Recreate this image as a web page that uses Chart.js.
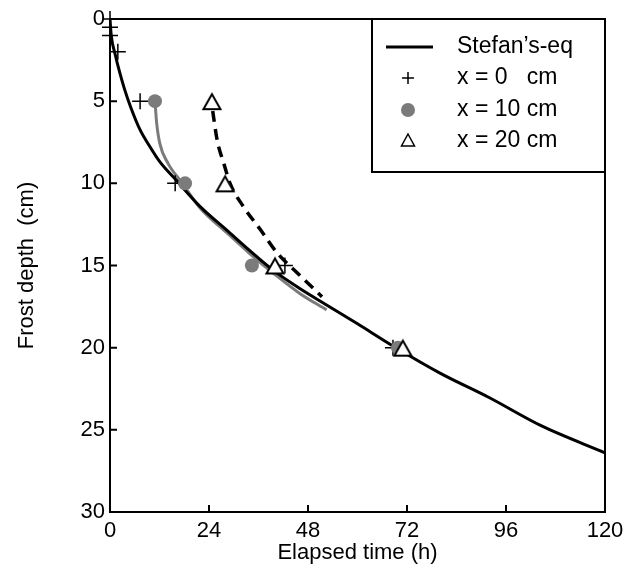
<!DOCTYPE html>
<html>
<head>
<meta charset="utf-8">
<script src="https://cdn.jsdelivr.net/npm/chart.js@4/dist/chart.umd.min.js"></script>
<style>
  html, body { margin: 0; padding: 0; background: #fff; }
  #wrap { width: 636px; height: 568px; }
</style>
</head>
<body>
<div id="wrap"><canvas id="frostChart" width="636" height="568"></canvas></div>
<script>
// Stefan's equation curve (elapsed time h, frost depth cm)
const stefanTime  = [0, 0.3, 1.2, 2.4, 3.5, 5, 7.3, 9.5, 12.1, 16.2, 21.8, 28.3, 33.9, 39.6, 46, 52.5, 60, 68.6, 80, 92, 104.5, 120];
const stefanDepth = [0, 1, 2.1, 3.3, 4.25, 5.35, 6.75, 7.7, 8.7, 9.85, 11.4, 12.85, 14.1, 15.3, 16.4, 17.4, 18.55, 19.9, 21.55, 23.05, 24.75, 26.4];

// measured points, x = 0 cm
const x0Time  = [0, 0, 0, 1.9, 7.3, 15.8, 42.4, 68.6];
const x0Depth = [0, 0.5, 1, 2, 5, 10, 15, 20];

// measured points, x = 10 cm, and its fitted curve
const x10Time  = [10.9, 18.2, 34.4, 69.8];
const x10Depth = [5, 10, 15, 20];
const x10LineTime  = [10.9, 11.3, 12.1, 14.1, 17.4, 22, 28.3, 34, 40, 46, 52.5];
const x10LineDepth = [5, 6.3, 7.6, 8.8, 9.95, 11.55, 13.0, 14.3, 15.55, 16.7, 17.7];

// measured points, x = 20 cm, and its fitted curve (dashed)
const x20Time  = [24.7, 27.9, 40, 71];
const x20Depth = [5, 10, 15, 20];
const x20LineTime  = [24.9, 26, 27.6, 29.1, 32.3, 36.4, 40.4, 45.6, 51.4];
const x20LineDepth = [5.6, 7.4, 8.8, 10, 11.4, 12.8, 14.2, 15.5, 16.9];

const xTicks = [0, 24, 48, 72, 96, 120];
const yTicks = [0, 5, 10, 15, 20, 25, 30];

const legendItems = ["Stefan\u2019s-eq", "x = 0   cm", "x = 10 cm", "x = 20 cm"];

const FONT = '"Liberation Sans", Arial, sans-serif';
const GRAY = '#7b7b7b';
const pts = (xs, ys) => xs.map((v, i) => ({ x: v, y: ys[i] }));

// open triangle marker, sitting a bit low like the original symbol
function triangleMarker(half, up, down, lw) {
    const c = document.createElement('canvas');
    c.width = 24; c.height = 24;
    const g = c.getContext('2d');
    g.fillStyle = '#fff';
    g.strokeStyle = '#000';
    g.lineWidth = lw;
    g.lineJoin = 'miter';
    g.beginPath();
    g.moveTo(12, 12 - up);
    g.lineTo(12 + half, 12 + down);
    g.lineTo(12 - half, 12 + down);
    g.closePath();
    g.fill();
    g.stroke();
    return c;
}
const triMark = triangleMarker(8.5, 7, 8, 2);

// frame + inward tick marks
const framePlugin = {
    id: 'frame',
    beforeDatasetsDraw(chart) {
        const { ctx, chartArea: a, scales: { x, y } } = chart;
        ctx.save();
        ctx.strokeStyle = '#000';
        ctx.lineWidth = 2;
        ctx.strokeRect(a.left, a.top, a.right - a.left, a.bottom - a.top);
        ctx.beginPath();
        xTicks.forEach(v => {
            const px = x.getPixelForValue(v);
            ctx.moveTo(px, a.bottom);
            ctx.lineTo(px, a.bottom - 7);
        });
        yTicks.forEach(v => {
            const py = y.getPixelForValue(v);
            ctx.moveTo(a.left, py);
            ctx.lineTo(a.left + 7, py);
        });
        ctx.stroke();
        ctx.restore();
    }
};

// boxed legend in the upper right corner
const legendPlugin = {
    id: 'boxLegend',
    afterDraw(chart) {
        const { ctx, chartArea: a } = chart;
        const w = 233, h = 153;
        const left = a.right - w, top = a.top;
        ctx.save();
        ctx.fillStyle = '#fff';
        ctx.fillRect(left, top, w, h);
        ctx.strokeStyle = '#000';
        ctx.lineWidth = 2;
        ctx.strokeRect(left, top, w, h);

        const rows = [28, 59, 91, 122].map(v => top + v);
        const sx = left + 36;

        // line
        ctx.lineWidth = 3;
        ctx.beginPath();
        ctx.moveTo(sx - 22, rows[0]);
        ctx.lineTo(sx + 25, rows[0]);
        ctx.stroke();
        // plus
        ctx.lineWidth = 1.5;
        ctx.beginPath();
        ctx.moveTo(sx - 6, rows[1]); ctx.lineTo(sx + 6, rows[1]);
        ctx.moveTo(sx, rows[1] - 6); ctx.lineTo(sx, rows[1] + 6);
        ctx.stroke();
        // circle
        ctx.fillStyle = GRAY;
        ctx.beginPath();
        ctx.arc(sx, rows[2], 7, 0, Math.PI * 2);
        ctx.fill();
        // triangle
        ctx.lineWidth = 1.5;
        ctx.beginPath();
        ctx.moveTo(sx, rows[3] - 7);
        ctx.lineTo(sx + 6.5, rows[3] + 5);
        ctx.lineTo(sx - 6.5, rows[3] + 5);
        ctx.closePath();
        ctx.stroke();

        ctx.fillStyle = '#000';
        ctx.font = '23px ' + FONT;
        ctx.textBaseline = 'middle';
        ctx.textAlign = 'left';
        legendItems.forEach((t, i) => ctx.fillText(t, left + 85, rows[i]));
        ctx.restore();
    }
};

new Chart(document.getElementById('frostChart'), {
    type: 'scatter',
    data: {
        datasets: [
            {
                label: 'x = 20 cm',
                data: pts(x20Time, x20Depth),
                pointStyle: triMark,
                pointRadius: 10,
                clip: false
            },
            {
                label: 'x = 10 cm',
                data: pts(x10Time, x10Depth),
                pointStyle: 'circle',
                pointRadius: 7,
                pointBackgroundColor: GRAY,
                pointBorderColor: GRAY,
                pointBorderWidth: 0,
                clip: false
            },
            {
                label: 'x = 0 cm',
                data: pts(x0Time, x0Depth),
                pointStyle: 'cross',
                pointRadius: 8,
                pointBorderColor: '#000',
                pointBorderWidth: 1.5,
                clip: false
            },
            {
                label: "Stefan's-eq",
                data: pts(stefanTime, stefanDepth),
                showLine: true,
                borderColor: '#000',
                borderWidth: 3,
                pointRadius: 0,
                cubicInterpolationMode: 'monotone'
            },
            {
                label: 'x = 10 cm fit',
                data: pts(x10LineTime, x10LineDepth),
                showLine: true,
                borderColor: GRAY,
                borderWidth: 3,
                pointRadius: 0,
                cubicInterpolationMode: 'monotone'
            },
            {
                label: 'x = 20 cm fit',
                data: pts(x20LineTime, x20LineDepth),
                showLine: true,
                borderColor: '#000',
                borderWidth: 3.5,
                borderDash: [11, 7],
                pointRadius: 0,
                cubicInterpolationMode: 'monotone'
            }
        ]
    },
    options: {
        responsive: false,
        animation: false,
        devicePixelRatio: 1,
        layout: { padding: { top: 19, right: 31, left: 0, bottom: 0 } },
        plugins: { legend: { display: false }, tooltip: { enabled: false } },
        scales: {
            x: {
                type: 'linear',
                min: 0,
                max: 120,
                afterFit: s => { s.height = 56; },
                afterBuildTicks: s => { s.ticks = xTicks.map(v => ({ value: v })); },
                ticks: { color: '#000', font: { family: FONT, size: 22 }, padding: 6 },
                grid: { display: false, drawTicks: false },
                border: { display: false },
                title: {
                    display: true,
                    text: 'Elapsed time (h)',
                    color: '#000',
                    font: { family: FONT, size: 22 },
                    padding: { top: 0, bottom: 2 }
                }
            },
            y: {
                type: 'linear',
                reverse: true,
                min: 0,
                max: 30,
                afterFit: s => { s.width = 110; },
                afterBuildTicks: s => { s.ticks = yTicks.map(v => ({ value: v })); },
                ticks: { color: '#000', font: { family: FONT, size: 22 }, padding: 5 },
                grid: { display: false, drawTicks: false },
                border: { display: false },
                title: {
                    display: true,
                    text: 'Frost depth  (cm)',
                    color: '#000',
                    font: { family: FONT, size: 22 },
                    padding: { top: 14, bottom: 0 }
                }
            }
        }
    },
    plugins: [framePlugin, legendPlugin]
});
</script>
</body>
</html>
